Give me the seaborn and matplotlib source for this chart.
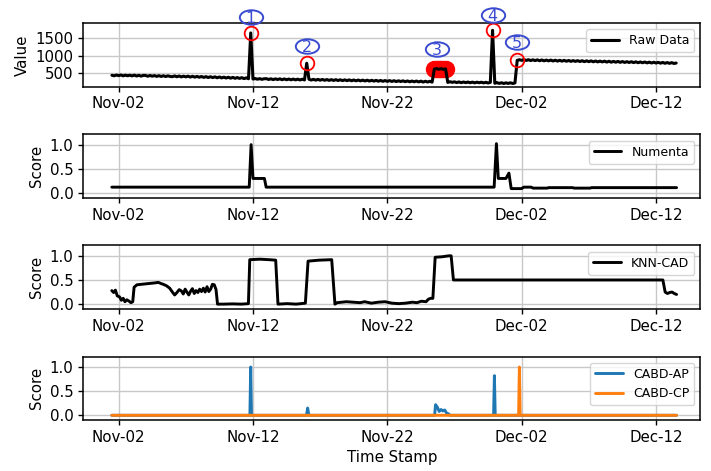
import numpy as np
import pandas as pd
import matplotlib
matplotlib.use("Agg")
import matplotlib.pyplot as plt
import matplotlib.dates as mdates
from matplotlib.path import Path
from matplotlib.transforms import Affine2D, offset_copy
import seaborn as sns

# ---------------------------------------------------------------- data
# Raw data: one reading every 4 hours starting Nov-01 12:00
raw_start = "2014-11-01 12:00"
raw_step = "4h"
raw_value = [
    446, 431, 452,                      # Nov-01 (12h,16h,20h)
    436, 454, 429, 449, 432, 447,       # Nov-02
    428, 450, 424, 445, 421, 442,       # Nov-03
    441, 418, 439, 420, 437, 414,       # Nov-04
    434, 412, 432, 409, 430, 413,       # Nov-05
    405, 428, 402, 425, 399, 421,       # Nov-06
    400, 421, 394, 417, 392, 414,       # Nov-07
    389, 411, 384, 407, 381, 404,       # Nov-08
    379, 401, 374, 397, 370, 392,       # Nov-09
    367, 390, 362, 386, 358, 381,       # Nov-10
    356, 378, 350, 373, 347, 1654,      # Nov-11
    338, 352, 333, 349, 330, 346,       # Nov-12
    348, 326, 345, 322, 343, 325,       # Nov-13
    343, 319, 341, 318, 338, 316,       # Nov-14
    337, 314, 335, 311, 333, 312,       # Nov-15
    790, 333, 309, 330, 306, 328,       # Nov-16
    305, 327, 302, 323, 299, 321,       # Nov-17
    298, 320, 296, 317, 293, 315,       # Nov-18
    292, 314, 289, 311, 287, 309,       # Nov-19
    286, 307, 283, 305, 280, 302,       # Nov-20
    279, 300, 276, 298, 273, 295,       # Nov-21
    272, 294, 269, 291, 266, 288,       # Nov-22
    266, 287, 262, 284, 259, 281,       # Nov-23
    259, 281, 256, 278, 252, 275,       # Nov-24
    253, 274, 250, 622, 636, 618,       # Nov-25
    634, 615, 628, 242, 261, 244,       # Nov-26
    258, 237, 256, 234, 253, 236,       # Nov-27
    252, 232, 250, 229, 248, 233,       # Nov-28
    247, 228, 245, 225, 242, 1730,      # Nov-29
    218, 234, 214, 232, 211, 229,       # Nov-30
    213, 231, 210, 227, 872, 889,       # Dec-01
    872, 894, 868, 890, 865, 887,       # Dec-02
    864, 886, 860, 883, 857, 880,       # Dec-03
    857, 879, 853, 876, 850, 873,       # Dec-04
    849, 872, 846, 869, 842, 865,       # Dec-05
    842, 864, 838, 861, 834, 858,       # Dec-06
    834, 857, 830, 853, 827, 850,       # Dec-07
    827, 849, 822, 846, 819, 842,       # Dec-08
    819, 841, 815, 838, 812, 834,       # Dec-09
    811, 833, 807, 830, 804, 826,       # Dec-10
    803, 825, 799, 821, 796, 818,       # Dec-11
    795, 816, 791, 812, 788, 809,       # Dec-12
    786, 806, 783, 795,                 # Dec-13 (0h..12h)
]

# Score series: breakpoints given in days since t0
t0 = "2014-11-02"
numenta_day = [-0.51, 9.72, 9.86, 10.00, 10.85, 10.98, 27.95, 28.12, 28.26, 28.83,
               29.05, 29.22, 30.00, 30.15, 30.70, 30.85, 31.90, 32.00, 33.80, 33.90,
               35.10, 35.20, 41.53]
numenta_score = [0.12, 0.12, 1.00, 0.30, 0.30, 0.12, 0.12, 1.02, 0.30, 0.30,
                 0.41, 0.09, 0.09, 0.12, 0.12, 0.10, 0.10, 0.11, 0.11, 0.10,
                 0.10, 0.11, 0.11]

knn_day = [-0.51, -0.37, -0.24, -0.10, 0.07, 0.20, 0.34, 0.47, 0.61, 0.78,
           0.92, 1.05, 1.15, 1.36, 1.69, 2.03, 2.37, 2.71, 2.95, 3.12,
           3.32, 3.56, 3.80, 4.00, 4.17, 4.34, 4.51, 4.68, 4.81, 4.95,
           5.08, 5.22, 5.36, 5.49, 5.63, 5.76, 5.90, 6.03, 6.17, 6.31,
           6.44, 6.58, 6.71, 6.85, 6.98, 7.12, 7.25, 7.36,
           7.80, 8.47, 9.15, 9.66,
           9.76, 10.51, 11.19, 11.69,
           11.86, 12.54, 13.22, 13.90,
           14.10, 14.92, 15.86,
           16.10,
           16.27, 16.61, 16.95, 17.46, 17.97, 18.31, 18.81, 19.32, 19.83, 20.34,
           20.85, 21.36, 21.86, 22.20, 22.54, 22.88, 23.05, 23.22, 23.39,
           23.56, 24.07, 24.58, 24.75,
           24.92, 40.51,
           40.68, 40.85, 41.02, 41.19, 41.36, 41.53]
knn_score = [0.28, 0.24, 0.29, 0.17, 0.15, 0.08, 0.12, 0.05, 0.09, 0.06,
             0.03, 0.05, 0.35, 0.40, 0.41, 0.42, 0.43, 0.44, 0.45, 0.43,
             0.41, 0.38, 0.33, 0.25, 0.19, 0.24, 0.30, 0.27, 0.21, 0.31,
             0.25, 0.19, 0.27, 0.32, 0.22, 0.28, 0.24, 0.31, 0.26, 0.33,
             0.25, 0.36, 0.26, 0.31, 0.41, 0.40, 0.30, 0.0,
             0.0, 0.005, 0.0, 0.01,
             0.92, 0.93, 0.92, 0.91,
             0.0, 0.01, 0.0, 0.02,
             0.89, 0.91, 0.92,
             0.0,
             0.03, 0.04, 0.05, 0.04, 0.03, 0.05, 0.02, 0.04, 0.05, 0.02,
             0.01, 0.02, 0.04, 0.03, 0.06, 0.05, 0.10, 0.12, 0.12,
             0.97, 0.98, 1.0, 1.0,
             0.5, 0.5,
             0.25, 0.22, 0.24, 0.25, 0.22, 0.20]

cabd_ap_day = [-0.51, 9.77, 9.83, 9.89, 13.98, 14.07, 14.16, 23.52, 23.59, 23.72,
               23.86, 24.00, 24.13, 24.27, 24.40, 24.55, 24.68, 27.91, 27.97, 28.03,
               41.53]
cabd_ap_score = [0, 0, 1.0, 0, 0, 0.15, 0, 0, 0.22, 0.17,
                 0.08, 0.12, 0.09, 0.11, 0.05, 0.03, 0, 0, 0.82, 0,
                 0]
cabd_cp_day = [-0.51, 29.77, 29.83, 29.89, 41.53]
cabd_cp_score = [0, 0, 1.0, 0, 0]

# Labelled anomalies in the raw data
anomaly_point_times = ["2014-11-11 20:00", "2014-11-16 00:00",
                       "2014-11-29 20:00", "2014-12-01 16:00"]
anomaly_window = ("2014-11-25 12:00", "2014-11-26 08:00")
anomaly_labels = ["1", "2", "3", "4", "5"]
anomaly_label_times = ["2014-11-11 20:00", "2014-11-16 00:00", "2014-11-25 16:00",
                       "2014-11-29 20:00", "2014-12-01 16:00"]

tick_dates = ["2014-11-02", "2014-11-12", "2014-11-22", "2014-12-02", "2014-12-12"]
tick_labels = ["Nov-02", "Nov-12", "Nov-22", "Dec-02", "Dec-12"]

# ---------------------------------------------------------------- frames
raw = pd.DataFrame({
    "time": pd.date_range(raw_start, periods=len(raw_value), freq=raw_step),
    "value": raw_value,
})


def from_days(days):
    return pd.Timestamp(t0) + pd.to_timedelta(np.asarray(days, dtype=float), unit="D")


numenta = pd.DataFrame({"time": from_days(numenta_day), "score": numenta_score})
knn = pd.DataFrame({"time": from_days(knn_day), "score": knn_score})
cabd_ap = pd.DataFrame({"time": from_days(cabd_ap_day), "score": cabd_ap_score})
cabd_cp = pd.DataFrame({"time": from_days(cabd_cp_day), "score": cabd_cp_score})

# ---------------------------------------------------------------- style
sns.set_theme(style="whitegrid")
plt.rcParams.update({
    "font.family": ["DejaVu Sans"],
    "axes.edgecolor": "black",
    "axes.linewidth": 1.1,
    "axes.facecolor": "white",
    "grid.color": "#c8c8c8",
    "grid.linewidth": 1.0,
    "xtick.bottom": True,
    "ytick.left": True,
    "xtick.major.size": 3.5,
    "ytick.major.size": 3.5,
    "xtick.major.width": 1.0,
    "ytick.major.width": 1.0,
    "xtick.major.pad": 3.5,
    "ytick.major.pad": 3.5,
    "xtick.color": "black",
    "ytick.color": "black",
    "xtick.labelsize": 10.8,
    "ytick.labelsize": 10.8,
    "axes.labelsize": 10.8,
    "axes.labelcolor": "black",
    "text.color": "black",
    "legend.fontsize": 9,
    "legend.frameon": True,
    "legend.framealpha": 0.8,
    "legend.edgecolor": "0.8",
    "legend.fancybox": True,
})

fig, axes = plt.subplots(4, 1, figsize=(7.11, 4.71), dpi=100)
fig.subplots_adjust(left=0.117, right=0.985, top=0.951, bottom=0.108, hspace=0.75)

LW = 2.1
xlim = (mdates.date2num(pd.Timestamp("2014-10-30 08:40")),
        mdates.date2num(pd.Timestamp("2014-12-15 07:10")))
tick_nums = [mdates.date2num(pd.Timestamp(d)) for d in tick_dates]

# Panel 1: raw data
ax = axes[0]
sns.lineplot(data=raw, x="time", y="value", ax=ax, color="black", lw=2.2,
             estimator=None, label="Raw Data")
win = raw[(raw["time"] >= pd.Timestamp(anomaly_window[0])) &
          (raw["time"] <= pd.Timestamp(anomaly_window[1]))]
ax.plot(mdates.date2num(win["time"]), win["value"], "o", ms=11.5, mfc="red",
        mec="red", zorder=1.5)
pts = raw[raw["time"].isin(pd.to_datetime(anomaly_point_times))]
ax.plot(mdates.date2num(pts["time"]), pts["value"], "o", ms=9.8, mfc="none",
        mec="red", mew=1.3, zorder=3, clip_on=False)

blue = "#3a4bd0"
ellipse = Affine2D().scale(1.0, 0.62).transform_path(Path.unit_circle())
label_offsets = [11.5, 12.2, 14.0, 11.3, 13.0]
for lab, t, off in zip(anomaly_labels, anomaly_label_times, label_offsets):
    row = raw[raw["time"] == pd.Timestamp(t)].iloc[0]
    xn = mdates.date2num(row["time"])
    trans = offset_copy(ax.transData, fig=fig, x=0, y=off, units="points")
    ax.plot([xn], [row["value"]], marker=ellipse, ms=16.8, mfc="none", mec=blue,
            mew=1.4, transform=trans, clip_on=False, zorder=5)
    ax.text(xn, row["value"], lab, transform=trans, ha="center",
            va="center_baseline", color=blue, fontsize=11.5, clip_on=False,
            zorder=5)

ax.set_ylim(122, 1936)
ax.set_yticks([500, 1000, 1500])
ax.set_ylabel("Value")

# Panel 2: Numenta
sns.lineplot(data=numenta, x="time", y="score", ax=axes[1], color="black", lw=LW,
             estimator=None, label="Numenta")
# Panel 3: KNN-CAD
sns.lineplot(data=knn, x="time", y="score", ax=axes[2], color="black", lw=LW,
             estimator=None, label="KNN-CAD")
# Panel 4: CABD
sns.lineplot(data=cabd_ap, x="time", y="score", ax=axes[3], color="#1f77b4", lw=LW,
             estimator=None, label="CABD-AP")
sns.lineplot(data=cabd_cp, x="time", y="score", ax=axes[3], color="#ff7f0e", lw=LW,
             estimator=None, label="CABD-CP")

for ax in axes[1:]:
    ax.set_ylim(-0.10, 1.215)
    ax.set_yticks([0.0, 0.5, 1.0])
    ax.set_yticklabels(["0.0", "0.5", "1.0"])
    ax.set_ylabel("Score")

for i, ax in enumerate(axes):
    ax.set_xlim(*xlim)
    ax.set_xticks(tick_nums)
    ax.set_xticklabels(tick_labels)
    ax.set_xlabel("Time Stamp" if i == 3 else "")
    ax.grid(True, color="#c8c8c8", lw=1.0)
    for s in ax.spines.values():
        s.set_color("black")
        s.set_linewidth(1.1)
    leg = ax.legend(loc="upper right", fontsize=9, handlelength=2.2)

fig.savefig("out.png", dpi=100)
